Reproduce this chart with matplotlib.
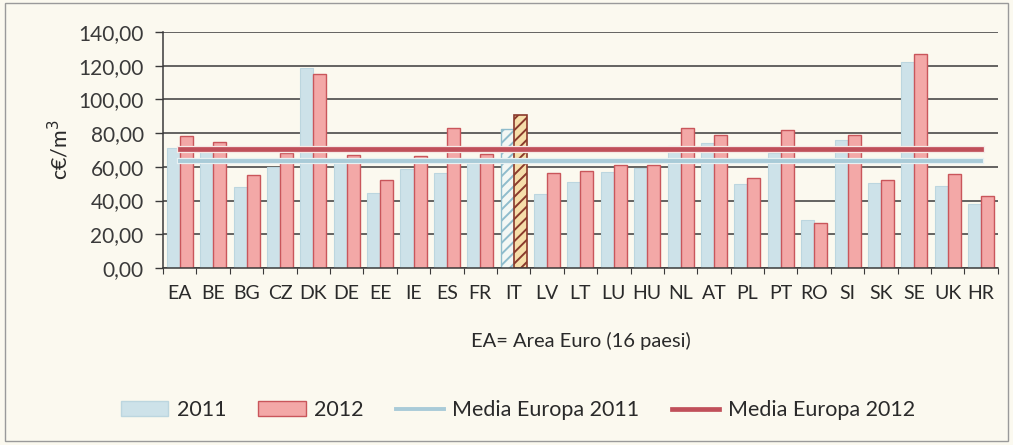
import matplotlib

matplotlib.use("Agg")
import matplotlib.pyplot as plt
import matplotlib.patheffects as pe
import numpy as np
from matplotlib.patches import Patch, Rectangle
from matplotlib.lines import Line2D

countries = ["EA", "BE", "BG", "CZ", "DK", "DE", "EE", "IE", "ES", "FR", "IT", "LV", "LT",
             "LU", "HU", "NL", "AT", "PL", "PT", "RO", "SI", "SK", "SE", "UK", "HR"]
values_2011 = [71.0, 70.0, 47.9, 60.0, 118.4, 62.5, 44.7, 58.9, 56.6, 62.0, 82.3, 44.0, 51.0,
               57.1, 59.0, 72.4, 73.9, 49.8, 68.0, 28.3, 75.9, 50.2, 122.5, 48.5, 37.7]
values_2012 = [78.3, 74.7, 55.0, 68.0, 114.9, 66.8, 52.2, 66.4, 83.0, 67.9, 90.8, 56.1, 57.7,
               61.3, 61.0, 83.3, 79.0, 53.4, 82.0, 26.7, 78.8, 52.2, 126.8, 55.8, 42.6]
media_2011 = 63.5
media_2012 = 70.4
highlight = "IT"

BG_COL = "#fbf9ef"
C2011 = "#cde2e9"
C2012 = "#f3a8a7"
EDGE2012 = "#c9565b"
RED_LINE = "#c0505a"
BLUE_LINE = "#a9cbd8"

plt.rcParams["font.family"] = ["Lato", "DejaVu Sans"]
plt.rcParams["hatch.linewidth"] = 1.4

fig = plt.figure(figsize=(10.13, 4.45), dpi=100, facecolor=BG_COL)
ax = fig.add_axes([0.161, 0.398, 0.824, 0.530])
ax.set_facecolor(BG_COL)

x = np.arange(len(countries))
w = 0.39
for i, c in enumerate(countries):
    if c == highlight:
        ax.bar(x[i] - w / 2, values_2011[i], w, facecolor="#f3f7f4", edgecolor="#8fbccc",
               hatch="///", linewidth=1.0, zorder=2)
        ax.bar(x[i] + w / 2, values_2012[i], w, facecolor="#f6deaa", edgecolor="#8a3a2c",
               hatch="///", linewidth=1.2, zorder=2)
    else:
        ax.bar(x[i] - w / 2, values_2011[i], w, color=C2011, edgecolor="#bcd6df",
               linewidth=0.8, zorder=2)
        ax.bar(x[i] + w / 2, values_2012[i], w, color=C2012, edgecolor=EDGE2012,
               linewidth=1.0, zorder=2)

ax.plot(x, np.full(len(x), media_2011), color=BLUE_LINE, lw=2.8, zorder=3,
        path_effects=[pe.Stroke(linewidth=4.5, foreground="#e8f1f3"), pe.Normal()])
ax.plot(x, np.full(len(x), media_2012), color=RED_LINE, lw=3.4, zorder=3,
        path_effects=[pe.Stroke(linewidth=5.2, foreground="#f6e9e6"), pe.Normal()])

ax.set_xlim(-0.5, len(countries) - 0.5)
ax.set_ylim(0, 140)
ax.set_yticks(np.arange(0, 141, 20))
ax.set_yticklabels([f"{v:.2f}".replace(".", ",") for v in np.arange(0, 141, 20)])
ax.yaxis.grid(True, color="#3a3a3a", lw=1.1, zorder=0)
ax.set_axisbelow(True)
ax.tick_params(axis="y", length=6, width=1, color="#3a3a3a", labelsize=15,
               labelcolor="#3a3a3a", pad=8)

ax.set_xticks(x)
ax.set_xticklabels(countries)
ax.tick_params(axis="x", length=0, labelsize=14, labelcolor="#2a2a2a", pad=12)
ax.set_xticks(np.arange(-0.5, len(countries), 1), minor=True)
ax.tick_params(axis="x", which="minor", length=4, width=0.8, color="#3a3a3a")

for s in ["top", "right"]:
    ax.spines[s].set_visible(False)
for s in ["left", "bottom"]:
    ax.spines[s].set_color("#3a3a3a")
    ax.spines[s].set_linewidth(1.1)

ax.set_ylabel("c€/m$^3$", fontsize=15.5, color="#2a2a2a")
ax.yaxis.set_label_coords(-0.11, 0.5)
ax.set_xlabel("EA= Area Euro (16 paesi)", fontsize=14.5, color="#2a2a2a")
ax.xaxis.set_label_coords(0.5, -0.272)

handles = [
    Patch(facecolor=C2011, edgecolor="#bcd6df"),
    Patch(facecolor=C2012, edgecolor=EDGE2012),
    Line2D([0], [0], color=BLUE_LINE, lw=2.8),
    Line2D([0], [0], color=RED_LINE, lw=3.4),
]
labels = ["2011", "2012", "Media Europa 2011", "Media Europa 2012"]
fig.legend(handles, labels, loc="center", bbox_to_anchor=(0.511, 0.078), ncol=4,
           frameon=False, fontsize=15.5, handlelength=2.2, handletextpad=0.4,
           columnspacing=1.5, labelcolor="#2a2a2a")

fig.patches.append(Rectangle((0.005, 0.008), 0.99, 0.985, transform=fig.transFigure,
                             fill=False, edgecolor="#9a9a9a", lw=1))

fig.savefig("out.png", dpi=100, facecolor=BG_COL)
